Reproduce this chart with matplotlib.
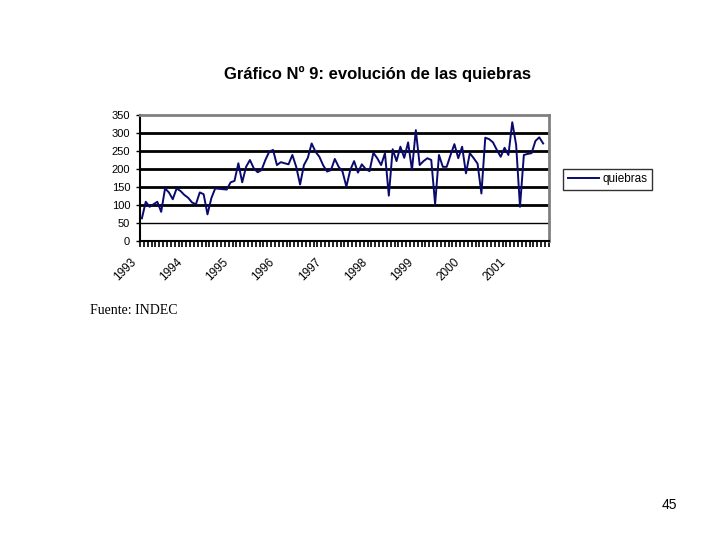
import numpy as np
import matplotlib
matplotlib.use("Agg")
import matplotlib.pyplot as plt
import matplotlib.transforms as mtransforms
from matplotlib.ticker import FixedLocator

plt.rcParams['font.family'] = ['Liberation Sans', 'DejaVu Sans']

# monthly bankruptcies, Jan 1993 onwards
quiebras = [
    63, 109, 95, 102, 109, 81, 146, 135, 116, 146, 139, 128,
    120, 107, 102, 135, 130, 74, 119, 146, 145, 144, 143, 163,
    167, 216, 163, 206, 225, 202, 191, 197, 225, 248, 253, 211,
    219, 216, 213, 239, 206, 157, 211, 231, 271, 248, 234, 210,
    193, 197, 228, 206, 193, 151, 197, 222, 190, 213, 200, 194,
    245, 230, 211, 244, 126, 255, 222, 262, 231, 274, 197, 308,
    211, 222, 230, 225, 102, 239, 206, 206, 239, 269, 230, 262,
    188, 244, 230, 215, 132, 287, 283, 274, 253, 234, 259, 239,
    330, 267, 95, 239, 242, 244, 278, 288, 271,
]
years = ["1993", "1994", "1995", "1996", "1997", "1998", "1999", "2000", "2001"]
n_cat = 106

fig = plt.figure(figsize=(7.2, 5.4), dpi=100)
ax = fig.add_axes([0.1944, 0.5537, 0.568, 0.2333])

x = np.arange(len(quiebras))
line, = ax.plot(x, quiebras, color='#0a0a6e', linewidth=1.4, label='quiebras')

ax.set_xlim(-0.5, n_cat - 0.5)
ax.set_ylim(0, 350)

# horizontal gridlines
for v in [100, 150, 200, 250, 300]:
    ax.axhline(v, color='black', linewidth=2.0, zorder=0)
ax.axhline(50, color='black', linewidth=1.0, zorder=0)

ax.set_yticks(range(0, 351, 50))
ax.tick_params(axis='y', length=3, width=1, labelsize=8, pad=4, direction='out')

# category ticks between months, year labels every 12
ax.xaxis.remove_overlapping_locs = False
ax.xaxis.set_major_locator(FixedLocator(np.arange(-0.5, n_cat, 1.0)))
ax.set_xticklabels([])
ax.tick_params(axis='x', which='major', length=4, width=1.2, direction='out')

trans = mtransforms.blended_transform_factory(ax.transData, ax.transAxes)
shift = mtransforms.ScaledTranslation(-6 / 100, -19 / 100, fig.dpi_scale_trans)
for i, yr in enumerate(years):
    ax.text(i * 12 - 0.5, 0, yr, transform=trans + shift, rotation=45,
            rotation_mode='anchor', ha='right', va='center', fontsize=8.5)

ax.spines['left'].set_linewidth(1.5)
ax.spines['bottom'].set_linewidth(1.5)
ax.spines['top'].set_color('#808080')
ax.spines['right'].set_color('#808080')
ax.spines['top'].set_linewidth(2)
ax.spines['right'].set_linewidth(2)

fig.text(0.524, 0.863, "Gráfico Nº 9: evolución de las quiebras",
         ha='center', va='center', fontsize=12, fontweight='bold')

leg = fig.legend(handles=[line], loc='center left', bbox_to_anchor=(0.774, 0.668),
                 fontsize=8.5, frameon=True, fancybox=False, edgecolor='black',
                 handlelength=2.6, borderpad=0.4, handletextpad=0.3)
leg.get_frame().set_linewidth(1.0)

fig.text(0.125, 0.425, "Fuente: INDEC", family=['Liberation Serif', 'DejaVu Serif'],
         fontsize=10, ha='left', va='center')
fig.text(0.94, 0.064, "45", fontsize=10, ha='right', va='center')

fig.savefig("out.png", dpi=100)
